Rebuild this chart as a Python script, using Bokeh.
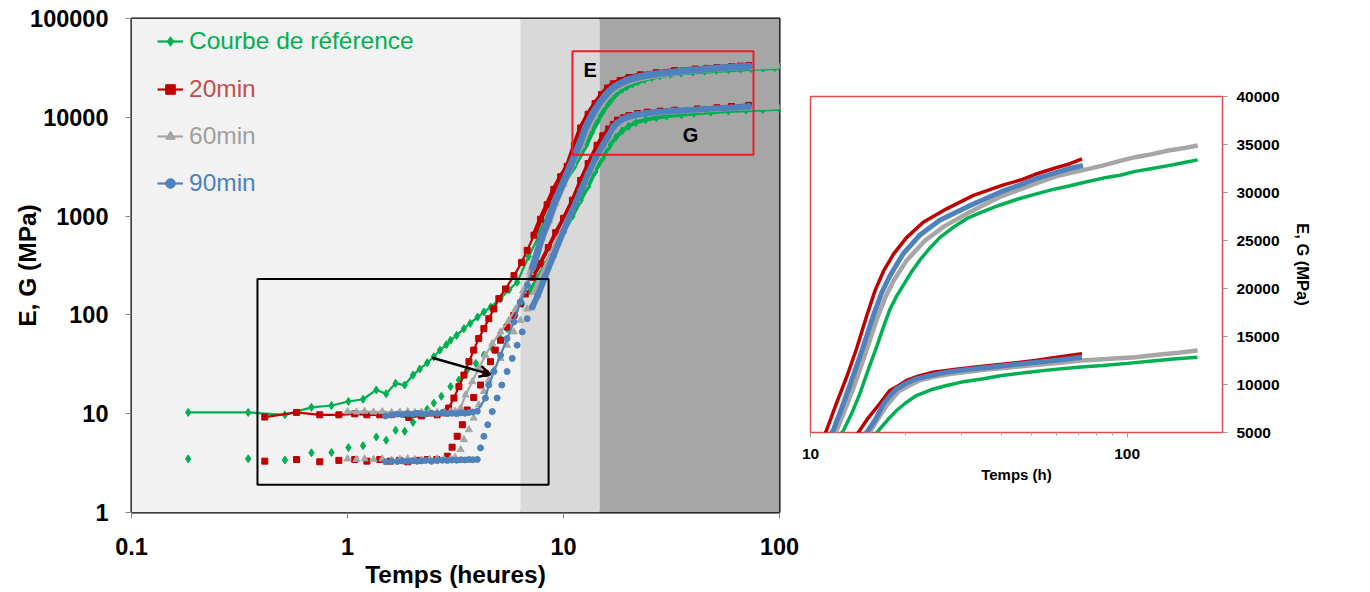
from bokeh.plotting import figure
from bokeh.layouts import row
from bokeh.models import (Range1d, FixedTicker, BoxAnnotation, Label, Arrow, OpenHead,
                          Legend, LegendItem, ColumnDataSource)
from bokeh.embed import file_html
from bokeh.resources import INLINE

# ---------------- data ----------------
# Courbe de référence
t_ref_E = [0.183, 0.347, 0.513, 0.681, 0.843, 1.01, 1.18, 1.36, 1.51, 1.67, 1.84, 2.01, 2.16, 2.34, 2.51,
           2.68, 2.87, 3.0, 3.2, 3.46, 3.7, 4.0, 4.28, 4.6, 5.11, 5.6, 6.1, 6.9, 7.83, 8.6, 9.35, 10.2,
           11.2, 12.0, 12.7, 13.5, 14.3, 15.2, 16.2, 17.0, 17.8, 18.7, 19.6, 20.9, 22.2, 23.8, 25.6, 28.0,
           31.2, 35.0, 39.7, 45.0, 51.0, 58.0, 66.0, 74.0, 84.0, 95.0, 106.0, 120.0, 135.0, 150.0, 167.0]
E_ref = [10.3, 10.3, 9.75, 11.6, 12.1, 13.3, 14.0, 17.4, 15.9, 20.3, 19.5, 24.6, 28.3, 32.8, 37.7,
         44, 50, 55.4, 62, 72.6, 82, 95, 107, 120, 146, 180, 214, 390, 682, 1050, 1593, 2300,
         3190, 4200, 5208, 7000, 9000, 11500, 14000, 16000, 17800, 19200, 20300, 21800, 23000, 24200, 25300, 26300,
         27300, 28000, 28700, 29300, 29800, 30300, 30700, 31100, 31500, 31800, 32200, 32500, 32800, 33100, 33400]
t_ref_G = [0.183, 0.347, 0.513, 0.681, 0.843, 1.01, 1.18, 1.36, 1.51, 1.67, 1.84, 2.01, 2.16, 2.34, 2.51,
           2.72, 3.0, 3.28, 3.58, 3.93, 4.28, 4.68, 5.11, 5.48, 6.0, 6.44, 7.0, 7.6, 8.2, 9.0, 10.0, 11.0,
           12.0, 13.0, 14.0, 15.2, 16.4, 17.5, 18.7, 20.0, 21.6, 24.0, 26.9, 30.0, 35.2, 40.2, 48.0, 58.0,
           70.0, 83.6, 100.0, 120.0, 140.0, 166.7]
G_ref = [3.49, 3.49, 3.39, 4.02, 4.05, 4.54, 4.75, 5.82, 5.39, 6.79, 6.64, 8.17, 9.9, 11.1, 12.8,
         15.0, 18.8, 21.9, 27.7, 32.3, 39.1, 45.7, 57.6, 72.6, 98.9, 130, 175, 235, 320, 450, 700, 1000,
         1450, 2000, 2800, 3900, 5208, 6300, 7290, 8100, 8850, 9450, 9900, 10250, 10590, 10940, 11250, 11550,
         11800, 11980, 12200, 12450, 12650, 12840]

# 20min
t_20_E = [0.414, 0.581, 0.744, 0.912, 1.08, 1.23, 1.41, 1.6, 1.92, 2.2, 2.6, 2.8, 2.94, 3.11, 3.28, 3.46,
          3.65, 3.84, 4.05, 4.28, 4.51, 4.76, 5.02, 5.39, 5.9, 6.4, 6.79, 7.3, 7.83, 8.4, 9.02, 9.7, 10.4,
          11.23, 12.0, 13.0, 14.0, 15.0, 16.0, 17.0, 18.3, 20.1, 22.7, 26.9, 32.7, 40.7, 46.0, 51.3, 60.0,
          66.0, 72.0]
E_20 = [9.25, 10.3, 9.75, 9.75, 9.97, 9.75, 9.75, 9.8, 9.18, 9.5, 9.75, 10.2, 11.4, 14.4, 18.8, 24.6,
        33.6, 44, 57.6, 72.6, 91.6, 115, 146, 183, 250, 340, 450, 640, 929, 1300, 1862, 2500, 3190,
        5208, 7800, 10760, 13800, 17000, 19800, 21800, 23600, 25300, 26900, 28300, 29700, 30800, 31300, 31900, 32600,
        33000, 33500]
t_20_G = [0.414, 0.581, 0.744, 0.912, 1.08, 1.23, 1.41, 1.58, 1.74, 1.90, 2.10, 2.34, 2.59, 2.9, 3.05, 3.22,
          3.40, 3.58, 3.84, 4.13, 4.35, 4.59, 4.83, 5.11, 5.48, 5.89, 6.32, 6.65, 7.2, 7.8, 8.5, 9.2, 10.0,
          11.0, 12.0, 13.0, 14.3, 15.2, 16.2, 17.0, 17.8, 19.0, 20.1, 22.0, 24.4, 28.0, 32.7, 41.7, 51.3,
          60.0, 72.0]
G_20 = [3.31, 3.44, 3.26, 3.37, 3.44, 3.31, 3.44, 3.31, 3.37, 3.26, 3.37, 3.44, 3.44, 3.71, 4.58, 5.91,
        7.73, 10.9, 14.6, 19.5, 25.6, 33.6, 44, 55.4, 75.5, 98.9, 130, 163, 240, 330, 480, 680, 950,
        1450, 2300, 3400, 5208, 6500, 7630, 8500, 9375, 9900, 10420, 10900, 11280, 11550, 11800, 12150, 12500,
        12850, 13200]

# 60min
t_60_E = [1.0, 1.1, 1.2, 1.32, 1.45, 1.6, 1.75, 1.9, 2.05, 2.2, 2.4, 2.6, 2.8, 3.0, 3.15, 3.34, 3.52, 3.78,
          4.05, 4.35, 4.68, 5.11, 5.58, 6.0, 6.5, 7.0, 7.5, 8.0, 8.6, 9.2, 10.0, 11.0, 12.1, 13.0, 13.9,
          15.0, 16.2, 17.3, 18.3, 20.1, 23.0, 26.5, 32.0, 40.0, 51.0, 60.0, 72.0, 83.6, 95.0, 106.0, 120.0,
          135.0, 150.0, 167.0]
E_60 = [10.5, 10.4, 10.6, 10.4, 10.5, 10.3, 10.4, 10.5, 10.3, 10.4, 10.5, 10.3, 10.4, 10.5, 10.6, 11.4, 15.5, 21.1,
        28.7, 39.1, 51.3, 67.3, 88, 115, 175, 270, 410, 600, 900, 1350, 2100, 3400, 5208, 7800, 10300,
        13500, 16800, 19200, 20800, 22900, 25000, 26500, 28000, 29600, 30900, 31700, 32300, 32800, 33300, 33680, 34000,
        34375, 34600, 34900]
t_60_G = [1.0, 1.1, 1.2, 1.32, 1.45, 1.6, 1.75, 1.9, 2.05, 2.2, 2.4, 2.6, 2.8, 3.0, 3.15, 3.34, 3.46, 3.65,
          3.84, 4.05, 4.28, 4.51, 4.76, 5.11, 5.48, 5.89, 6.32, 6.79, 7.3, 8.0, 8.7, 9.5, 10.5, 11.5, 12.5,
          13.5, 14.5, 15.5, 16.4, 17.4, 19.0, 20.5, 22.0, 24.5, 27.5, 32.0, 37.0, 43.0, 50.0, 60.0, 72.0,
          86.0, 106.0, 125.0, 145.0, 167.0]
G_60 = [3.49, 3.45, 3.5, 3.44, 3.49, 3.4, 3.45, 3.5, 3.44, 3.4, 3.45, 3.5, 3.44, 3.49, 3.6, 4.33, 5.46, 6.89,
        9.03, 12.3, 16.8, 21.9, 27.7, 36.3, 49.4, 67.3, 88, 115, 170, 260, 400, 600, 950, 1450, 2100,
        3000, 4100, 5208, 6500, 7800, 9300, 9900, 10400, 10800, 11100, 11350, 11600, 11800, 12000, 12250, 12500,
        12650, 12840, 13100, 13300, 13540]

# 90min
t_90_E = [1.5, 1.6, 1.7, 1.8, 1.9, 2.0, 2.1, 2.2, 2.3, 2.45, 2.6, 2.75, 2.9, 3.05, 3.2, 3.35, 3.5, 3.65,
          3.8, 3.99, 4.35, 4.51, 4.76, 5.11, 5.48, 5.89, 6.32, 6.8, 7.2, 7.6, 8.0, 8.5, 9.0, 9.8, 10.8,
          11.8, 12.7, 13.6, 14.7, 15.8, 16.8, 17.8, 19.6, 22.2, 25.6, 31.2, 39.7, 46.0, 51.0, 60.0, 66.0, 72.5]
E_90 = [9.5, 9.7, 9.9, 9.8, 10.0, 9.9, 10.1, 10.0, 9.9, 10.1, 10.0, 10.2, 10.0, 10.1, 10.0, 10.2, 10.1, 10.3,
        10.4, 10.6, 14.4, 19.5, 26.7, 39.1, 57.6, 84.9, 135, 200, 300, 440, 650, 900, 1300, 2000, 3300,
        5208, 8000, 10760, 14000, 17200, 19600, 21300, 23600, 25600, 27100, 28500, 30030, 30800, 31400, 32100, 32500, 32810]
t_90_G = [1.5, 1.6, 1.7, 1.8, 1.9, 2.0, 2.1, 2.2, 2.3, 2.45, 2.6, 2.75, 2.9, 3.05, 3.2, 3.35, 3.5, 3.65,
          3.8, 3.99, 4.13, 4.28, 4.46, 4.68, 4.93, 5.18, 5.48, 5.79, 6.10, 6.44, 6.79, 7.17, 7.6, 8.2, 9.0,
          10.0, 11.0, 12.0, 13.0, 14.0, 15.2, 16.0, 17.0, 17.8, 18.7, 20.0, 21.6, 24.0, 26.9, 31.0, 36.9,
          45.0, 55.0, 63.0, 72.0]
G_90 = [3.26, 3.3, 3.28, 3.32, 3.3, 3.35, 3.3, 3.33, 3.36, 3.3, 3.35, 3.38, 3.36, 3.4, 3.38, 3.42, 3.4, 3.44,
        3.42, 3.44, 4.51, 5.91, 7.73, 10.5, 14.4, 19.5, 26.7, 36.3, 49.4, 67.3, 91.6, 120, 157, 240, 400,
        700, 1150, 1800, 2700, 3800, 5208, 6300, 7990, 8800, 9550, 10100, 10590, 10950, 11280, 11550, 11800,
        12100, 12400, 12600, 12840]

series_names = ["Courbe de référence", "20min", "60min", "90min"]
series_colors = ["#00b050", "#c00000", "#a6a6a6", "#4f81bd"]
legend_text_colors = ["#00b050", "#c0504d", "#a0a0a0", "#4f81bd"]

# axes / annotations
x_ticks_main = [0.1, 1, 10, 100]
x_labels_main = ["0.1", "1", "10", "100"]
y_ticks_main = [1, 10, 100, 1000, 10000, 100000]
y_labels_main = ["1", "10", "100", "1000", "10000", "100000"]
zone_edges = [6.32, 14.7]                 # hours
zone_colors = ["#f2f2f2", "#d9d9d9", "#a6a6a6"]
black_box = dict(left=0.383, right=8.53, bottom=1.91, top=231)
red_box = dict(left=11.0, right=75.8, bottom=4185, top=46500)
arrow_pts = dict(x_start=2.47, y_start=36.8, x_end=4.59, y_end=25.0)
label_E = (13.3, 30000)
label_G = (38.7, 6650)

x_ticks_inset = [10, 100]
x_minor_inset = [20, 30, 40, 50, 60, 70, 80, 90]
y_ticks_inset = [5000, 10000, 15000, 20000, 25000, 30000, 35000, 40000]

# ---------------- styles ----------------
FONT = "Liberation Sans"
markers = ["diamond", "square", "triangle", "circle"]
msizes = [8, 6, 7, 6]
band_widths = [5, 5, 6, 7]
band_start_t = 7.0

data = [
    (t_ref_E, E_ref, t_ref_G, G_ref),
    (t_20_E, E_20, t_20_G, G_20),
    (t_60_E, E_60, t_60_G, G_60),
    (t_90_E, E_90, t_90_G, G_90),
]

# ---------------- main plot ----------------
p1 = figure(width=800, height=590, x_axis_type="log", y_axis_type="log",
            x_range=Range1d(0.1, 100), y_range=Range1d(1, 100000),
            output_backend="svg", toolbar_location=None,
            min_border_left=131, min_border_right=21, min_border_top=18, min_border_bottom=75,
            background_fill_color="white", border_fill_color="white", frame_align=False)
p1.grid.visible = False
p1.outline_line_color = "black"
p1.outline_line_width = 2

p1.add_layout(BoxAnnotation(right=zone_edges[0], fill_color=zone_colors[0], fill_alpha=1,
                            line_color=None, level="underlay"))
p1.add_layout(BoxAnnotation(left=zone_edges[0], right=zone_edges[1], fill_color=zone_colors[1], fill_alpha=1,
                            line_color=None, level="underlay"))
p1.add_layout(BoxAnnotation(left=zone_edges[1], fill_color=zone_colors[2], fill_alpha=1,
                            line_color=None, level="underlay"))

legend_renderers = []
for i, (tE, E, tG, G) in enumerate(data):
    c = series_colors[i]
    m = markers[i]
    s = msizes[i]
    srcE = ColumnDataSource(dict(t=tE, v=E))
    srcG = ColumnDataSource(dict(t=tG, v=G))
    bandE = ColumnDataSource(dict(t=[a for a in tE if a >= band_start_t],
                                  v=[b for a, b in zip(tE, E) if a >= band_start_t]))
    bandG = ColumnDataSource(dict(t=[a for a in tG if a >= band_start_t],
                                  v=[b for a, b in zip(tG, G) if a >= band_start_t]))
    # G : markers only (dense part drawn as band)
    p1.line("t", "v", source=bandG, line_color=c, line_width=band_widths[i] - 1)
    p1.scatter("t", "v", source=srcG, marker=m, size=s, fill_color=c, line_color=c)
    # E : line + markers
    p1.line("t", "v", source=bandE, line_color=c, line_width=band_widths[i])
    ln = p1.line("t", "v", source=srcE, line_color=c, line_width=2.2)
    sc = p1.scatter("t", "v", source=srcE, marker=m, size=s, fill_color=c, line_color=c)
    legend_renderers.append([ln, sc])

p1.add_layout(BoxAnnotation(fill_color=None, line_color="black", line_alpha=1, line_width=2, **black_box))
p1.add_layout(BoxAnnotation(fill_color=None, line_color="#ee1d23", line_alpha=1, line_width=2, **red_box))
p1.add_layout(Arrow(end=OpenHead(size=11, line_width=2.5, line_color="black"),
                    line_width=2.5, line_color="black", **arrow_pts))
p1.add_layout(Label(x=label_E[0], y=label_E[1], text="E", text_font=FONT, text_font_style="bold",
                    text_font_size="20px", text_color="black", text_align="center", text_baseline="middle"))
p1.add_layout(Label(x=label_G[0], y=label_G[1], text="G", text_font=FONT, text_font_style="bold",
                    text_font_size="20px", text_color="black", text_align="center", text_baseline="middle"))

# legends (one per series so each text keeps its colour)
leg_y = [457, 409, 362, 315]
for i in range(4):
    leg = Legend(items=[LegendItem(label=series_names[i], renderers=legend_renderers[i])],
                 location=(26, leg_y[i]), padding=0, margin=0, spacing=0,
                 glyph_width=26, glyph_height=24, label_height=24, label_standoff=6,
                 label_text_font=FONT, label_text_font_size="24.5px",
                 label_text_color=legend_text_colors[i],
                 border_line_color=None, background_fill_alpha=0)
    p1.add_layout(leg)

for ax in (p1.xaxis[0], p1.yaxis[0]):
    ax.axis_line_color = None
    ax.major_tick_line_color = "#888888"
    ax.major_tick_out = 6
    ax.major_tick_in = 0
    ax.minor_tick_line_color = None
    ax.major_label_text_font = FONT
    ax.major_label_text_font_style = "bold"
    ax.major_label_text_font_size = "23.5px"
    ax.major_label_text_color = "black"
    ax.axis_label_text_font = FONT
    ax.axis_label_text_font_style = "bold"
    ax.axis_label_text_font_size = "24.5px"
    ax.axis_label_text_color = "black"

p1.xaxis.ticker = FixedTicker(ticks=x_ticks_main)
p1.xaxis.major_label_overrides = dict(zip(x_ticks_main, x_labels_main))
p1.yaxis.ticker = FixedTicker(ticks=y_ticks_main)
p1.yaxis.major_label_overrides = dict(zip(y_ticks_main, y_labels_main))
p1.xaxis.axis_label = "Temps (heures)"
p1.yaxis.axis_label = "E, G (MPa)"
p1.xaxis.major_label_standoff = 19
p1.yaxis.major_label_standoff = 17
p1.xaxis.axis_label_standoff = 3
p1.yaxis.axis_label_standoff = -14

# ---------------- inset ----------------
p2 = figure(width=562, height=590, x_axis_type="log", y_axis_location="right",
            x_range=Range1d(10, 200), y_range=Range1d(5000, 40000),
            output_backend="svg", toolbar_location=None,
            min_border_left=10, min_border_right=140, min_border_top=96, min_border_bottom=158,
            background_fill_color="white", border_fill_color="white", frame_align=False)
p2.grid.visible = False
p2.outline_line_color = "#e04a4a"
p2.outline_line_width = 1.5

inset_widths = [3.5, 3.5, 4.5, 5]
for i, (tE, E, tG, G) in enumerate(data):
    c = series_colors[i]
    for tt, vv in ((tE, E), (tG, G)):
        src = ColumnDataSource(dict(t=tt, v=vv))
        p2.line("t", "v", source=src, line_color=c, line_width=inset_widths[i])

for ax in (p2.xaxis[0], p2.yaxis[0]):
    ax.axis_line_color = None
    ax.major_tick_line_color = "#999999"
    ax.major_tick_out = 5
    ax.major_tick_in = 0
    ax.minor_tick_line_color = "#aaaaaa"
    ax.minor_tick_out = 3
    ax.minor_tick_in = 0
    ax.major_label_text_font = FONT
    ax.major_label_text_font_style = "bold"
    ax.major_label_text_font_size = "15.5px"
    ax.major_label_text_color = "black"
    ax.axis_label_text_font = FONT
    ax.axis_label_text_font_style = "bold"
    ax.axis_label_text_color = "black"

p2.xaxis.axis_label_text_font_size = "15px"
p2.yaxis.axis_label_text_font_size = "16.5px"
p2.xaxis.ticker = FixedTicker(ticks=x_ticks_inset, minor_ticks=x_minor_inset)
p2.xaxis.major_label_overrides = {k: str(k) for k in x_ticks_inset}
p2.yaxis.ticker = FixedTicker(ticks=y_ticks_inset)
p2.yaxis.minor_tick_line_color = None
p2.yaxis.major_label_overrides = {k: str(k) for k in y_ticks_inset}
p2.xaxis.axis_label = "Temps (h)"
p2.yaxis.axis_label = "E, G (MPa)"
p2.xaxis.major_label_standoff = 11
p2.yaxis.major_label_standoff = 9
p2.xaxis.axis_label_standoff = 4
p2.yaxis.axis_label_standoff = 11

layout = row(p1, p2)
open("out.html", "w").write(file_html(layout, INLINE))
